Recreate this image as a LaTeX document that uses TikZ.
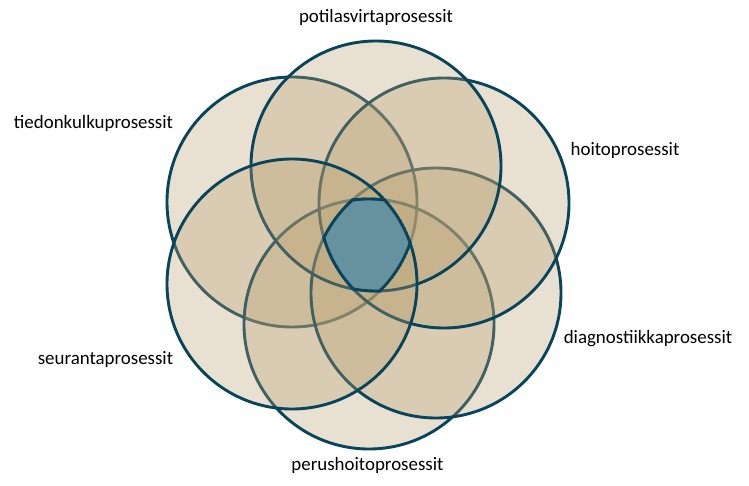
\documentclass[tikz,border=0pt]{standalone}
\usepackage{fontspec}
\setmainfont{Carlito}
\usepackage{xcolor}
\usepackage{tikz}
\definecolor{ringline}{RGB}{8,68,92}
\definecolor{ringfill}{RGB}{184,160,112}
\definecolor{coreteal}{RGB}{102,146,160}
\tikzset{
  ring/.style={draw=ringline,line width=2.9pt,fill=ringfill,fill opacity=0.32},
  coreline/.style={draw=ringline,line width=2.9pt},
  proclabel/.style={font=\fontsize{18.9}{22}\selectfont,inner sep=0pt,anchor=base}
}

\begin{document}
\begin{tikzpicture}[x=1pt,y=-1pt]
  \useasboundingbox (0,0) rectangle (749,486);
  % centres of the six process circles
  \coordinate (potilas) at (376,166);
  \coordinate (hoito) at (444,203);
  \coordinate (diagn) at (436,293);
  \coordinate (perus) at (369,324);
  \coordinate (seuranta) at (292,284);
  \coordinate (tiedon) at (292,202);
  % circles, in drawing order
  \draw[ring] (tiedon) circle (125pt);
  \draw[ring] (perus) circle (125pt);
  \draw[ring] (diagn) circle (125pt);
  \draw[ring] (hoito) circle (125pt);
  \draw[ring] (potilas) circle (125pt);
  \draw[ring] (seuranta) circle (125pt);
  % common core of all six
  \begin{scope}
    \clip (potilas) circle (126.45pt);
    \clip (hoito) circle (126.45pt);
    \clip (diagn) circle (126.45pt);
    \clip (perus) circle (126.45pt);
    \clip (seuranta) circle (126.45pt);
    \clip (tiedon) circle (126.45pt);
    \fill[coreteal] (200,100) rectangle (550,400);
    \draw[coreline] (potilas) circle (125pt);
    \draw[coreline] (hoito) circle (125pt);
    \draw[coreline] (diagn) circle (125pt);
    \draw[coreline] (perus) circle (125pt);
    \draw[coreline] (seuranta) circle (125pt);
    \draw[coreline] (tiedon) circle (125pt);
  \end{scope}
  % labels
  \node[proclabel] (potilaslbl) at (376,23) {potilasvirtaprosessit};
  \node[proclabel] (hoitolbl) at (625,155.5) {hoitoprosessit};
  \node[proclabel] (diagnlbl) at (648,343) {diagnostiikkaprosessit};
  \node[proclabel] (peruslbl) at (367.5,470.5) {perushoitoprosessit};
  \node[proclabel] (seurantalbl) at (105.5,364) {seurantaprosessit};
  \node[proclabel] (tiedonlbl) at (93.5,129) {tiedonkulkuprosessit};
\end{tikzpicture}
\end{document}
